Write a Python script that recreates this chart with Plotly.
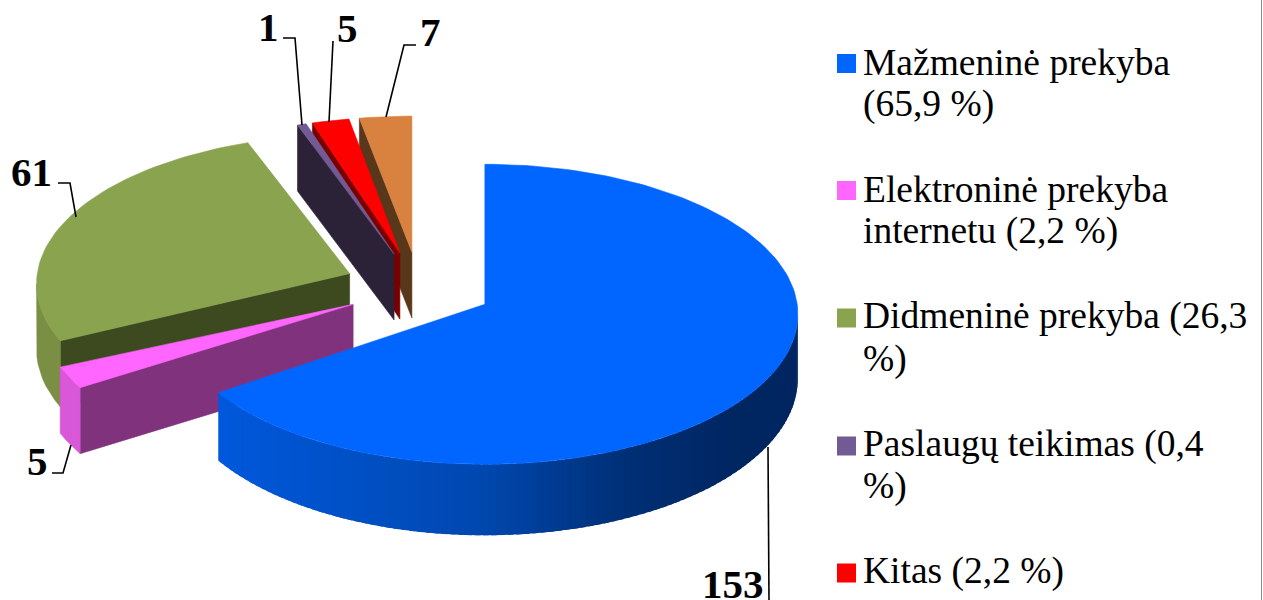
import math
import plotly.graph_objects as go

# ---- data ----
categories = ["Mažmeninė prekyba", "Elektroninė prekyba internetu", "Didmeninė prekyba",
              "Paslaugų teikimas", "Kitas", "Kita veikla"]
values = [153, 5, 61, 1, 5, 7]
value_labels = ["153", "5", "61", "1", "5", "7"]
legend_lines = [["Mažmeninė prekyba", "(65,9 %)"],
                ["Elektroninė prekyba", "internetu (2,2 %)"],
                ["Didmeninė prekyba (26,3", "%)"],
                ["Paslaugų teikimas (0,4", "%)"],
                ["Kitas (2,2 %)"]]
top_colors = ["#0066FF", "#FF66FF", "#8AA34F", "#725A94", "#FF0000", "#D9813E"]
edge_colors = ["#0050C8", "#80337C", "#3D4A20", "#2C2238", "#7A0000", "#58371A"]
outer_colors = [None, "#D958D9", "#7A8F44", "#5A4676", "#C00000", "#A8642E"]

# ---- styling / projection ----
CX, CY = 419, 287          # pie centre on the page
RX = 313                   # horizontal radius of the top ellipse
RY_FRONT = 150
RY_BACK = [150, 146, 149, 146, 146, 146]   # back half of the ellipse, slice by slice
SHIFT = 10                 # perspective drop of the rim
DEPTH = 66
PULL = 0.24
# the 3D view bends the slice edges a little: degrees added to (start, end) of each slice
VIEW_BEND = [(0, 1), (3.3, 4.2), (2.4, 1.2), (2.2, 2.3), (2.4, 1.5), (1.2, 0)]
FONT = "Liberation Serif"


def rim(r, th, ry_back=146):
    t = math.radians(th)
    c = math.cos(t)
    return r * RX * math.sin(t), -r * (ry_back if c > 0 else RY_FRONT) * c + SHIFT * r


def lerp_hex(a, b, f):
    ca = [int(a[i:i + 2], 16) for i in (1, 3, 5)]
    cb = [int(b[i:i + 2], 16) for i in (1, 3, 5)]
    return "#%02X%02X%02X" % tuple(round(x + (y - x) * f) for x, y in zip(ca, cb))


def blue_wall(x):
    stops = [(218, "#0058DC"), (480, "#0048B0"), (620, "#003078"), (720, "#002763"), (800, "#002560")]
    for (x0, c0), (x1, c1) in zip(stops, stops[1:]):
        if x <= x1:
            return lerp_hex(c0, c1, max(0, (x - x0) / (x1 - x0)))
    return stops[-1][1]


def front_depth(th):
    return 64 + 7 * max(0.0, -math.cos(math.radians(th)))


def poly(pts, color, name, width=0.6):
    xs = [p[0] for p in pts] + [pts[0][0]]
    ys = [p[1] for p in pts] + [pts[0][1]]
    return go.Scatter(x=xs, y=ys, mode="lines", fill="toself", fillcolor=color,
                      line=dict(color=color, width=width), showlegend=False,
                      hoverinfo="skip", name=name)


fig = go.Figure()
total = sum(values)
starts, ends, acc = [], [], 0
for v in values:
    starts.append(acc / total * 360)
    acc += v
    ends.append(acc / total * 360)

# paint slices from the back to the front
for i in [5, 4, 3, 2, 1, 0]:
    a0, a1 = starts[i], ends[i]
    mid = (a0 + a1) / 2
    mx, my = rim(PULL, mid)
    tx, ty = CX + mx, CY + my - SHIFT * PULL
    a0 += VIEW_BEND[i][0]
    a1 += VIEW_BEND[i][1]

    def P(th, dz=0):
        x, y = rim(1, th, RY_BACK[i])
        return tx + x, ty + y + dz

    # straight cut walls
    if math.sin(math.radians(a0)) < -1e-6:
        fig.add_trace(poly([(tx, ty), P(a0), P(a0, DEPTH), (tx, ty + DEPTH)], edge_colors[i], categories[i]))
    if math.sin(math.radians(a1)) > 1e-6:
        fig.add_trace(poly([(tx, ty), P(a1), P(a1, DEPTH), (tx, ty + DEPTH)], edge_colors[i], categories[i]))

    # outer wall: only the part of the rim that faces the viewer
    lo, hi = max(a0, 90), min(a1, 270)
    if hi > lo:
        if outer_colors[i] is None:
            # gradient: thin bands painted from the dark end, each overlapping the next
            n = int((hi - lo) / 1.5)
            ths = [lo + (hi - lo) * k / n for k in range(n + 1)]
            for t0, t1 in zip(ths, ths[1:]):
                col = blue_wall((P(t0)[0] + P(t1)[0]) / 2)
                t2 = min(t1 + 1.0, hi)
                pts = [P(t0), P(t1), P(t2), P(t2, front_depth(t2)), P(t1, front_depth(t1)), P(t0, front_depth(t0))]
                fig.add_trace(poly(pts, col, categories[i], width=0))
        else:
            n = max(2, int((hi - lo) / 2.5))
            ths = [lo + (hi - lo) * k / n for k in range(n + 1)]
            pts = [P(t) for t in ths] + [P(t, DEPTH) for t in reversed(ths)]
            fig.add_trace(poly(pts, outer_colors[i], categories[i]))

    # top face
    n = max(2, int((a1 - a0) / 1.5))
    arc = [P(a0 + (a1 - a0) * k / n) for k in range(n + 1)]
    fig.add_trace(poly([(tx, ty)] + arc, top_colors[i], categories[i]))

# leader lines and value labels (page positions)
leaders = {
    0: [(768, 447), (769, 600)],
    1: [(52, 473), (63, 473), (71, 445)],
    2: [(58, 183), (70, 183), (76, 217)],
    3: [(283, 38), (295, 38), (302, 125)],
    4: [(333, 41), (329, 122)],
    5: [(416, 45), (404, 45), (386, 117)],
}
label_pos = {0: (733, 584), 1: (37, 461), 2: (31, 172), 3: (268, 27), 4: (347, 28), 5: (430, 32)}
shapes = []
for i, pts in leaders.items():
    path = "M " + " L ".join(f"{x},{y}" for x, y in pts)
    shapes.append(dict(type="path", path=path, xref="x", yref="y",
                       line=dict(color="black", width=1.6)))
shapes.append(dict(type="line", xref="x", yref="y", x0=1261.5, x1=1261.5, y0=0, y1=600,
                   line=dict(color="#8C8C8C", width=1)))

annotations = []
for i, (x, y) in label_pos.items():
    annotations.append(dict(x=x, y=y, xref="x", yref="y", text=f"<b>{value_labels[i]}</b>",
                            showarrow=False, xanchor="center", yanchor="middle",
                            font=dict(family=FONT, size=41, color="black")))

# legend
legend_rows = [[62, 104], [189, 231], [316, 359], [444, 486], [571]]
swatch_y = [63.5, 190.5, 318, 446, 573]
for k, (lines, rows) in enumerate(zip(legend_lines, legend_rows)):
    fig.add_trace(go.Scatter(x=[846.5], y=[swatch_y[k]], mode="markers",
                             marker=dict(symbol="square", size=19, color=top_colors[k], line=dict(width=0)),
                             showlegend=False, hoverinfo="skip", name=categories[k]))
    for text, y in zip(lines, rows):
        annotations.append(dict(x=861, y=y, xref="x", yref="y", text=text, showarrow=False,
                                xanchor="left", yanchor="middle",
                                font=dict(family=FONT, size=37.5, color="black")))

fig.update_layout(
    width=1263, height=600, margin=dict(l=0, r=0, t=0, b=0),
    paper_bgcolor="white", plot_bgcolor="white", showlegend=False,
    xaxis=dict(range=[0, 1263], visible=False, fixedrange=True),
    yaxis=dict(range=[600, 0], visible=False, fixedrange=True),
    shapes=shapes, annotations=annotations,
)
fig.write_html("out.html", config={"displayModeBar": False},
               post_script="document.body.style.margin='0';")
